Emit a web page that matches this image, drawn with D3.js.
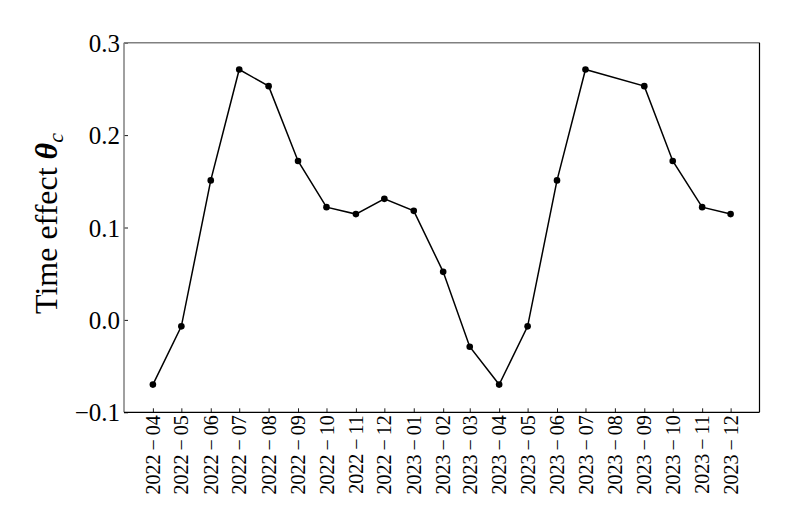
<!DOCTYPE html>
<html>
<head>
<meta charset="utf-8">
<script src="https://cdn.jsdelivr.net/npm/d3@7"></script>
<style>
  body { margin: 0; background: #fff; }
  svg { display: block; }
  text { font-family: "Liberation Serif", "DejaVu Serif", serif; fill: #000; }
</style>
</head>
<body>
<svg id="chart"></svg>
<script>
// months on the x axis (tick labels)
const months = ["2022-04", "2022-05", "2022-06", "2022-07", "2022-08", "2022-09", "2022-10",
    "2022-11", "2022-12", "2023-01", "2023-02", "2023-03", "2023-04", "2023-05",
    "2023-06", "2023-07", "2023-08", "2023-09", "2023-10", "2023-11", "2023-12"];
// time effect per month (2023-08 has no value)
const values = [-0.070, -0.007, 0.151, 0.271, 0.253, 0.172, 0.122,
    0.1145, 0.131, 0.118, 0.052, -0.029, -0.070, -0.007,
    0.151, 0.271, null, 0.253, 0.172, 0.122, 0.1145];
const yTicks = [-0.1, 0.0, 0.1, 0.2, 0.3];

const width = 793, height = 527;
const margin = {top: 42.7, right: 33.5, bottom: 114.7, left: 124};
const innerW = width - margin.left - margin.right;
const innerH = height - margin.top - margin.bottom;
const fontFam = '"Liberation Serif", "DejaVu Serif", serif';

const svg = d3.select('#chart')
    .attr('width', width)
    .attr('height', height);

const parse = d3.utcParse('%Y-%m');
const data = months.map((m, i) => ({date: parse(m), value: values[i], label: m}));
const points = data.filter(d => d.value !== null);

// margen del 5% como matplotlib
const t0 = data[0].date, t1 = data[data.length - 1].date;
const pad = (t1 - t0) * 0.05;
const x = d3.scaleUtc()
    .domain([new Date(+t0 - pad), new Date(+t1 + pad)])
    .range([0, innerW]);
const y = d3.scaleLinear()
    .domain([-0.1, 0.3])
    .range([innerH, 0]);

const g = svg.append('g').attr('transform', `translate(${margin.left},${margin.top})`);

// eje x: ticks hacia dentro, etiquetas giradas
const xAxis = g.append('g')
    .attr('transform', `translate(0,${innerH})`)
    .call(d3.axisBottom(x).tickValues(data.map(d => d.date)).tickSizeInner(-4).tickSizeOuter(0)
        .tickFormat((d, i) => data[i].label.replace('-', '\u2009\u2212\u2009')));
xAxis.attr('font-family', fontFam);
xAxis.select('.domain').remove();
xAxis.selectAll('.tick line').attr('stroke', '#000').attr('stroke-width', 0.9);
xAxis.selectAll('.tick text')
    .attr('font-family', fontFam)
    .attr('font-size', 20)
    .attr('transform', 'rotate(-90)')
    .attr('text-anchor', 'end')
    .attr('x', -3)
    .attr('y', 0)
    .attr('dy', '0.33em');

// eje y
const yAxis = g.append('g')
    .call(d3.axisLeft(y).tickValues(yTicks).tickSizeInner(-4).tickSizeOuter(0).tickPadding(5)
        .tickFormat(d => d3.format('.1f')(d).replace('-', '\u2212')));
yAxis.attr('font-family', fontFam);
yAxis.select('.domain').remove();
yAxis.selectAll('.tick line').attr('stroke', '#000').attr('stroke-width', 0.9);
yAxis.selectAll('.tick text')
    .attr('font-family', fontFam)
    .attr('font-size', 25)
    .attr('x', -4)
    .attr('dy', '0.34em');

// marco: arriba e izquierda gris, abajo y derecha negro
g.append('line').attr('x1', 0).attr('x2', innerW).attr('y1', 0).attr('y2', 0)
    .attr('stroke', '#808080').attr('stroke-width', 1.5);
g.append('line').attr('x1', 0).attr('x2', 0).attr('y1', 0).attr('y2', innerH)
    .attr('stroke', '#808080').attr('stroke-width', 1.5);
g.append('line').attr('x1', 0).attr('x2', innerW).attr('y1', innerH).attr('y2', innerH)
    .attr('stroke', '#000').attr('stroke-width', 1.2);
g.append('line').attr('x1', innerW).attr('x2', innerW).attr('y1', 0).attr('y2', innerH)
    .attr('stroke', '#000').attr('stroke-width', 1.2);

// linea y puntos
const line = d3.line()
    .x(d => x(d.date))
    .y(d => y(d.value));

g.append('path')
    .datum(points)
    .attr('fill', 'none')
    .attr('stroke', '#000')
    .attr('stroke-width', 1.5)
    .attr('d', line);

g.append('g')
    .selectAll('circle')
    .data(points)
    .enter().append('circle')
    .attr('cx', d => x(d.date))
    .attr('cy', d => y(d.value))
    .attr('r', 3.3)
    .attr('fill', '#000');

// titulo del eje y
const yLabel = svg.append('text')
    .attr('transform', `translate(57,${margin.top + innerH / 2 - 4}) rotate(-90)`)
    .attr('text-anchor', 'middle')
    .attr('font-family', fontFam)
    .attr('font-size', 32);
yLabel.append('tspan').text('Time effect ');
yLabel.append('tspan').attr('font-weight', 'bold').attr('font-style', 'italic').text('\u03b8');
yLabel.append('tspan').attr('font-style', 'italic').attr('font-size', 22).attr('dy', 6).text('c');
</script>
</body>
</html>
